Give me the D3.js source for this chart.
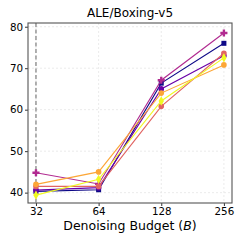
<!DOCTYPE html>
<html><head><meta charset="utf-8">
<script src="https://cdn.jsdelivr.net/npm/d3@7"></script>
<style>body{margin:0;background:#fff;}svg{display:block;font-family:"DejaVu Sans",sans-serif;}</style>
</head><body>
<svg id="c" width="244" height="244"></svg>
<script>
const budgets = [32, 64, 128, 256];
const seriesNames = ["s0", "s1", "s2", "s3", "s4", "s5"];
const s0 = [40.3, 40.7, 66.4, 76.0];
const s1 = [40.6, 41.2, 65.0, 73.0];
const s2 = [44.8, 42.1, 67.1, 78.5];
const s3 = [41.5, 41.5, 60.8, 73.6];
const s4 = [42.0, 45.0, 64.0, 70.8];
const s5 = [39.4, 43.2, 62.1, 72.5];
const seriesValues = [s0, s1, s2, s3, s4, s5];
const colorStops = [0, 0.2, 0.4, 0.6, 0.8, 1.0];
const yTicks = [40, 50, 60, 70, 80];
const title = "ALE/Boxing-v5";

const svg = d3.select("#c");
const m = {l: 28, r: 12, t: 23, b: 41};
const W = 244, H = 244;
const x = d3.scaleLog().base(2).domain([29.3, 280]).range([m.l, W - m.r]);
const y = d3.scaleLinear().domain([37.5, 80.9]).range([H - m.b, m.t]);

// grid
const g = svg.append("g");
g.selectAll(".gx").data(budgets).join("line")
  .attr("x1", d => x(d)).attr("x2", d => x(d)).attr("y1", m.t).attr("y2", H - m.b)
  .attr("stroke", "#e6e6e6").attr("stroke-width", 0.8).attr("stroke-dasharray", "2,2");
g.selectAll(".gy").data(yTicks).join("line")
  .attr("y1", d => y(d)).attr("y2", d => y(d)).attr("x1", m.l).attr("x2", W - m.r)
  .attr("stroke", "#e6e6e6").attr("stroke-width", 0.8).attr("stroke-dasharray", "2,2");

// dashed vertical line at 32
svg.append("line").attr("x1", x(32)).attr("x2", x(32)).attr("y1", m.t).attr("y2", H - m.b)
  .attr("stroke", "#888").attr("stroke-width", 1.3).attr("stroke-dasharray", "4,2.5");

const shapes = [d3.symbolSquare, d3.symbolCircle, d3.symbolCross, d3.symbolCircle, d3.symbolCircle, d3.symbolDiamond];
const line = d3.line().x((d, i) => x(budgets[i])).y(d => y(d));
seriesValues.forEach((vals, k) => {
  const col = d3.interpolatePlasma(colorStops[k]);
  svg.append("path").datum(vals).attr("d", line).attr("fill", "none")
    .attr("stroke", col).attr("stroke-width", 1.1);
  svg.selectAll(null).data(vals).join("path")
    .attr("transform", (d, i) => `translate(${x(budgets[i])},${y(d)})`)
    .attr("d", d3.symbol().type(shapes[k]).size(k === 2 ? 28 : 25))
    .attr("fill", col);
});

// axes
const xa = svg.append("g").attr("transform", `translate(0,${H - m.b})`)
  .call(d3.axisBottom(x).tickValues(budgets).tickFormat(d3.format("d")).tickSize(3).tickPadding(2));
const ya = svg.append("g").attr("transform", `translate(${m.l},0)`)
  .call(d3.axisLeft(y).tickValues(yTicks).tickSize(3).tickPadding(2));
[xa, ya].forEach(a => {
  a.select(".domain").remove();
  a.selectAll("text").attr("font-size", 10.3).attr("fill", "#000").attr("font-family", "DejaVu Sans");
  a.selectAll("line").attr("stroke", "#333");
});
// frame
svg.append("rect").attr("x", m.l).attr("y", m.t).attr("width", W - m.l - m.r).attr("height", H - m.t - m.b)
  .attr("fill", "none").attr("stroke", "#555").attr("stroke-width", 1.1);

svg.append("text").attr("x", (m.l + W - m.r) / 2).attr("y", 17).attr("text-anchor", "middle")
  .attr("font-size", 12).text(title);
const xl = svg.append("text").attr("x", (m.l + W - m.r) / 2).attr("y", 230).attr("text-anchor", "middle")
  .attr("font-size", 12.5);
xl.append("tspan").text("Denoising Budget (");
xl.append("tspan").attr("font-style", "italic").text("B");
xl.append("tspan").text(")");
</script>
</body></html>
